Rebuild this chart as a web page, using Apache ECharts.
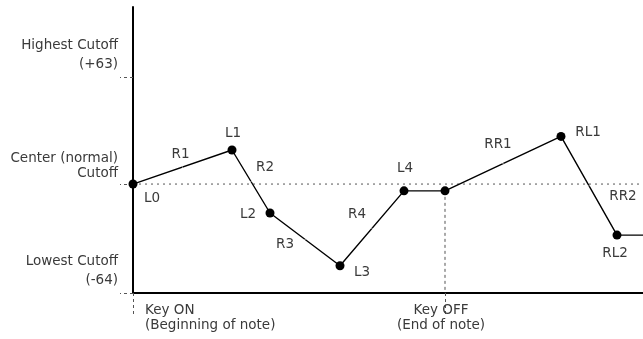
<!DOCTYPE html>
<html><head><meta charset="utf-8">
<script src="https://cdn.jsdelivr.net/npm/echarts@6/dist/echarts.min.js"></script>
<style>html,body{margin:0;padding:0;background:#fff}#c{width:643px;height:339px}</style>
</head><body><div id="c"></div>
<script>
// ---- data ----
const pointNames = ['L0', 'L1', 'L2', 'L3', 'L4', '', 'RL1', 'RL2', ''];
const xValues = [0, 99, 137, 207, 271, 312, 428, 484, 510];
const yValues = [0, 20, -17, -48, -4, -4, 28, -30, -30];
const segmentNames = ['R1', 'R2', 'R3', 'R4', '', 'RR1', 'RR2', ''];
const yTickValues = [-64, 0, 63];
const yTickLabels = ['Lowest Cutoff\n(-64)', 'Center (normal)\nCutoff', 'Highest Cutoff\n(+63)'];
const xTickValues = [0, 312];
const xTickLabels = ['Key ON\n(Beginning of note)', 'Key OFF\n(End of note)'];
const keyOffIndex = 5;
const centerValue = 0;
const lowestValue = -64;

// ---- styles ----
const FONT = 'DejaVu Sans';
const TXT = '#3a3a3a';
const FS = 13.5;
const pointLabelOffsets = [[19, 14], [1, -17], [-22, 2], [22, 7], [1, -22], null, [27, -4], [-2, 18], null];
const segLabelOffsets = [[-2, -13], [14, -14], [-20, 5], [-15, -14], null, [-5, -19], [34, 11], null];

const lineData = xValues.map((x, i) => {
  const item = { value: [x, yValues[i]] };
  if (!pointNames[i]) {
    if (i === xValues.length - 1) item.symbol = 'none';
    item.label = { show: false };
  } else {
    item.label = { show: true, formatter: pointNames[i], position: 'inside', color: TXT,
      offset: pointLabelOffsets[i], align: 'center', verticalAlign: 'middle' };
  }
  return item;
});

const segData = [];
for (let i = 0; i < segmentNames.length; i++) {
  if (!segmentNames[i]) continue;
  segData.push({
    value: [(xValues[i] + xValues[i + 1]) / 2, (yValues[i] + yValues[i + 1]) / 2],
    label: { show: true, formatter: segmentNames[i], position: 'inside', offset: segLabelOffsets[i],
      color: TXT, opacity: 1, fontFamily: FONT, fontSize: FS, align: 'center', verticalAlign: 'middle' }
  });
}

const chart = echarts.init(document.getElementById('c'), null, { renderer: 'canvas' });
chart.setOption({
  animation: false,
  backgroundColor: '#fff',
  grid: { left: 133, right: 0, top: 7, bottom: 46, containLabel: false, outerBoundsMode: 'none' },
  xAxis: {
    type: 'value', min: 0, max: 510,
    axisLine: { show: true, onZero: false, lineStyle: { color: '#000', width: 2 } },
    splitLine: { show: false },
    axisTick: { show: true, customValues: xTickValues, length: 21, inside: false,
      lineStyle: { color: '#555', type: [3, 3], width: 1 } },
    axisLabel: {
      show: true, customValues: xTickValues, margin: 10, alignMinLabel: 'left',
      formatter: (v) => {
        const i = xTickValues.indexOf(v);
        const st = i === 0 ? 'a' : 'b';
        return xTickLabels[i].split('\n').map(l => '{' + st + '|' + l + '}').join('\n');
      },
      rich: {
        a: { fontFamily: FONT, fontSize: FS, color: TXT, lineHeight: 15, padding: [0, 0, 0, 12] },
        b: { fontFamily: FONT, fontSize: FS, color: TXT, lineHeight: 15, padding: [0, 8, 0, 0] }
      }
    }
  },
  yAxis: {
    type: 'value', min: -64, max: 104,
    axisLine: { show: true, onZero: false, lineStyle: { color: '#000', width: 2 } },
    splitLine: { show: false },
    axisTick: { show: true, customValues: yTickValues, length: 13, inside: false,
      lineStyle: { color: '#555', type: [3, 3], width: 1 } },
    axisLabel: {
      show: true, customValues: yTickValues, margin: 15, verticalAlign: 'bottom', align: 'right',
      padding: [0, 0, 3, 0],
      formatter: (v) => {
        const i = yTickValues.indexOf(v);
        const st = v === 0 ? 'c' : 'n';
        return yTickLabels[i].split('\n').map(l => '{' + st + '|' + l + '}').join('\n');
      },
      rich: {
        n: { fontFamily: FONT, fontSize: FS, color: TXT, lineHeight: 19, align: 'right' },
        c: { fontFamily: FONT, fontSize: FS, color: TXT, lineHeight: 15, align: 'right' }
      }
    }
  },
  series: [
    {
      name: 'center', type: 'line', silent: true, symbol: 'none', z: 1,
      data: [[xValues[0], centerValue], [xValues[xValues.length - 1], centerValue]],
      lineStyle: { color: '#555', width: 1, type: [2, 4] }
    },
    {
      name: 'keyoff', type: 'line', silent: true, symbol: 'none', z: 1,
      data: [[xValues[keyOffIndex], yValues[keyOffIndex]], [xValues[keyOffIndex], lowestValue]],
      lineStyle: { color: '#555', width: 1, type: [3, 3] }
    },
    {
      name: 'envelope', type: 'line', z: 3,
      symbol: 'circle', symbolSize: 9,
      itemStyle: { color: '#000' },
      lineStyle: { color: '#000', width: 1.4 },
      label: { fontFamily: FONT, fontSize: FS, color: TXT },
      data: lineData
    },
    {
      name: 'segments', type: 'scatter', symbolSize: 1, z: 4,
      itemStyle: { color: '#fff', opacity: 1 },
      label: { fontFamily: FONT, fontSize: FS, color: TXT },
      data: segData
    }
  ]
});
</script>
</body></html>
